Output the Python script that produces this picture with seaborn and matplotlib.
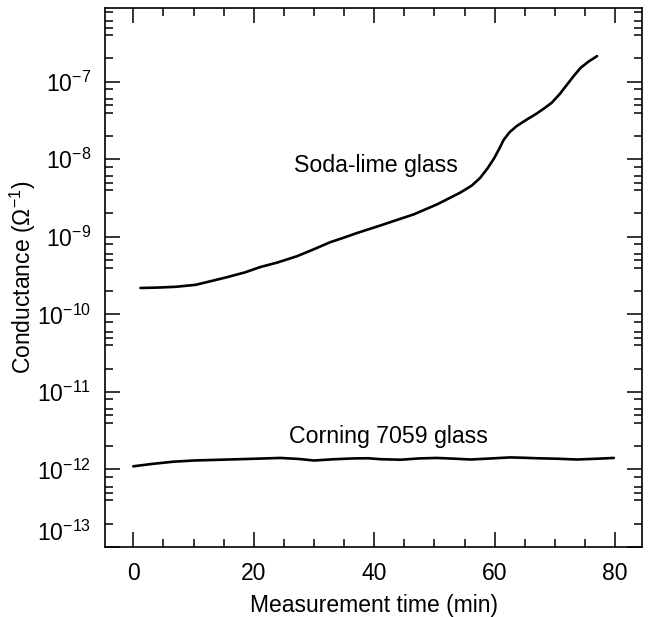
import numpy as np
import pandas as pd
import matplotlib
matplotlib.use("Agg")
import matplotlib.pyplot as plt
import matplotlib.ticker as mticker
import matplotlib.transforms as mtransforms
import seaborn as sns

# soda-lime glass conductance (log10 of siemens)
soda_time = [1.2, 4.0, 7.0, 10.3, 13.0, 15.6, 18.5, 21.1, 24.0, 27.2, 30.0, 32.7, 35.0,
             37.2, 40.8, 43.5, 46.6, 50.5, 54.3, 56.2, 57.6, 58.8, 59.9, 60.8, 61.5,
             62.5, 63.7, 65.3, 67.0, 68.3, 69.5, 70.8, 72.0, 73.2, 74.3, 75.6, 77.0]
soda_log = [-9.66, -9.655, -9.645, -9.62, -9.57, -9.52, -9.46, -9.39, -9.33, -9.25, -9.16, -9.07,
            -9.01, -8.95, -8.86, -8.79, -8.71, -8.58, -8.43, -8.34, -8.24, -8.12, -7.99, -7.86,
            -7.75, -7.65, -7.57, -7.49, -7.41, -7.34, -7.27, -7.16, -7.04, -6.92, -6.82,
            -6.74, -6.67]

# Corning 7059 glass
corning_time = [0.0, 3.0, 6.7, 10.0, 14.5, 19.0, 24.4, 27.5, 30.0, 33.0, 36.6, 39.0, 41.0,
                44.4, 47.5, 50.4, 53.5, 56.0, 59.5, 62.6, 65.0, 67.0, 70.4, 73.7, 77.0, 79.8]
corning_log = [-11.96, -11.93, -11.90, -11.885, -11.875, -11.865, -11.852, -11.865, -11.885,
               -11.87, -11.858, -11.856, -11.868, -11.875, -11.858, -11.852, -11.862, -11.872,
               -11.858, -11.845, -11.85, -11.856, -11.862, -11.872, -11.862, -11.852]

ytick_exp = [-13, -12, -11, -10, -9, -8, -7]
xticks = [0, 20, 40, 60, 80]

soda = pd.DataFrame({"time": soda_time, "G": 10.0 ** np.array(soda_log)})
corning = pd.DataFrame({"time": corning_time, "G": 10.0 ** np.array(corning_log)})

sns.set_style("ticks")
plt.rcParams["font.family"] = ["Liberation Sans", "DejaVu Sans"]
plt.rcParams["mathtext.fontset"] = "custom"
plt.rcParams["mathtext.rm"] = "Liberation Sans"
plt.rcParams["mathtext.it"] = "Liberation Sans:italic"
plt.rcParams["mathtext.bf"] = "Liberation Sans:bold"
plt.rcParams["text.color"] = "black"
plt.rcParams["axes.labelcolor"] = "black"

fig = plt.figure(figsize=(6.48, 6.17), dpi=100)
ax = fig.add_axes([0.162, 0.1135, 0.829, 0.874])

sns.lineplot(data=soda, x="time", y="G", color="black", lw=1.9, ax=ax)
sns.lineplot(data=corning, x="time", y="G", color="black", lw=1.9, ax=ax)

ax.set_yscale("log")
ax.set_xlim(-4.7, 84.5)
ax.set_ylim(1.0e-13, 9.0e-7)

ax.set_xticks(xticks)
ax.xaxis.set_minor_locator(mticker.MultipleLocator(5))
ax.set_yticks([10.0 ** e for e in ytick_exp])
ax.set_yticklabels([r"$10^{%d}$" % e for e in ytick_exp])
ax.yaxis.set_minor_locator(mticker.LogLocator(base=10, subs=[2, 4, 5, 6, 8], numticks=20))
ax.yaxis.set_minor_formatter(mticker.NullFormatter())

ax.tick_params(which="both", direction="in", top=True, right=True, width=1.1,
               color="black", labelcolor="black")
ax.tick_params(which="major", length=11)
ax.tick_params(which="minor", length=5.5)
ax.tick_params(axis="x", which="major", labelsize=16.5, pad=11)
ax.tick_params(axis="y", which="major", labelsize=16.5, pad=10)

# the bottom label sits a little above the axis edge in the original
lowest = ax.get_yticklabels()[0]
lowest.set_transform(lowest.get_transform() +
                     mtransforms.ScaledTranslation(0, 12 / 72, fig.dpi_scale_trans))

for s in ax.spines.values():
    s.set_linewidth(1.2)
    s.set_color("black")

ax.set_xlabel("Measurement time (min)", fontsize=16.5, labelpad=6)
ax.set_ylabel(r"Conductance ($\Omega^{-1}$)", fontsize=16.5, labelpad=-1)

ax.text(40.3, 10 ** -8.08, "Soda-lime glass", fontsize=16.7, ha="center", va="center")
ax.text(42.4, 10 ** -11.57, "Corning 7059 glass", fontsize=16.7, ha="center", va="center")

fig.savefig("out.png", dpi=100)
